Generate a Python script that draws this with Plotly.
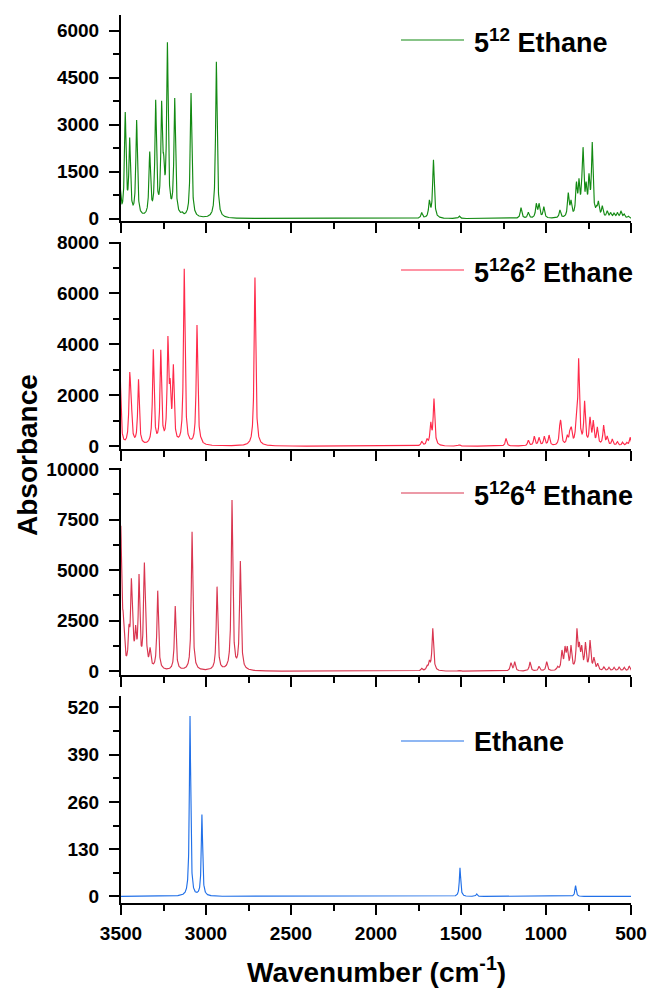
import numpy as np
import plotly.graph_objects as go

# ---------------- data (peak positions in cm-1 and observed peak heights) ----------------
p1_pos = [3506, 3475, 3449, 3408, 3331, 3296, 3261, 3249, 3227, 3184, 3150, 3140, 3088, 2939,
          1731, 1686, 1662, 1510, 1147, 1104, 1057, 1041, 1013, 918, 869, 853, 821, 806, 790,
          782, 764, 747, 728, 703, 692, 669, 640, 620, 600, 580, 559, 540, 515]
p1_hgt = [1100, 3400, 2590, 3146, 2142, 3795, 3763, 2068, 5627, 3849, 200, 220, 4009, 5010,
          192, 598, 1877, 86, 352, 205, 492, 492, 384, 278, 831, 600, 1183, 1291, 1260,
          2282, 1183, 1450, 2442, 420, 566, 415, 250, 200, 180, 200, 250, 150, 80]

p2_pos = [3505, 3449, 3441, 3397, 3310, 3266, 3224, 3211, 3192, 3128, 3075, 3053, 3030, 2712,
          1731, 1700, 1678, 1659, 1510, 1235, 1104, 1069, 1041, 1010, 982, 918, 912, 875, 859,
          851, 822, 808, 773, 741, 722, 698, 661, 640, 610, 580, 550, 525, 505]
p2_hgt = [2800, 2885, 2309, 2630, 3810, 3790, 4329, 2663, 3213, 6965, 260, 4761, 350, 6623,
          200, 300, 957, 1876, 60, 302, 236, 393, 350, 393, 440, 957, 957, 450, 695,
          760, 1220, 3450, 1783, 1154, 1023, 760, 826, 400, 280, 180, 160, 150, 350]

p3_pos = [3501, 3488, 3482, 3453, 3439, 3431, 3414, 3394, 3363, 3355, 3329, 3284, 3181, 3082,
          3040, 2935, 2847, 2798, 1731, 1700, 1686, 1666, 1510, 1206, 1184, 1094, 1041, 996,
          932, 906, 888, 875, 853, 818, 804, 790, 768, 741, 718, 696, 660, 630, 600, 570, 540, 510]
p3_hgt = [7200, 3000, 1960, 2326, 4600, 2787, 2292, 4816, 5376, 3232, 1188, 3990, 3232, 6910,
          150, 4188, 8480, 5460, 150, 300, 560, 2128, 60, 427, 475, 460, 250, 475,
          250, 1054, 1252, 1250, 1300, 2128, 1450, 1300, 1450, 1550, 700, 400, 220, 200, 200, 220, 200, 250]

p4_pos = [3094, 3024, 1506, 1408, 826]
p4_hgt = [496, 225, 79, 7, 30]

names = ["5<sup>12</sup> Ethane", "5<sup>12</sup>6<sup>2</sup> Ethane",
         "5<sup>12</sup>6<sup>4</sup> Ethane", "Ethane"]
hwhm = [5.5, 5.5, 5.5, 4.5]          # Lorentzian half widths (cm-1)
colors = ["#138a13", "#ff2a4a", "#d93650", "#2170e8"]
y_ranges = [[-75, 6500], [-110, 8020], [-185, 10060], [-18, 551]]
y_dticks = [1500, 2000, 2500, 130]
x_ticks = [3500, 3000, 2500, 2000, 1500, 1000, 500]

peaks = [(p1_pos, p1_hgt), (p2_pos, p2_hgt), (p3_pos, p3_hgt), (p4_pos, p4_hgt)]
wn = np.arange(3520.0, 479.5, -0.5)


def spectrum(pos, hgt, g):
    pos = np.asarray(pos, float)
    hgt = np.asarray(hgt, float)
    A = g ** 2 / ((pos[:, None] - pos[None, :]) ** 2 + g ** 2)
    amp = hgt.copy()
    for _ in range(400):  # match the observed maxima
        amp = np.clip(amp + 0.5 * (hgt - A @ amp), 0, None)
    L = g ** 2 / ((wn[:, None] - pos[None, :]) ** 2 + g ** 2)
    return L @ amp


# ---------------- layout geometry ----------------
W, H = 652, 992
ml, mr, mt, mb = 121, 21, 15, 89
pw, ph = W - ml - mr, H - mt - mb
panels_px = [(15, 221), (242, 449), (468, 675), (696, 903)]


def py2paper(py):
    return (H - mb - py) / ph


def px2paper(px):
    return (px - ml) / pw


fig = go.Figure()
font_tick = dict(family="Liberation Sans, Arial", size=19, color="black", weight="bold")

for i, ((pos, hgt), g) in enumerate(zip(peaks, hwhm)):
    k = "" if i == 0 else str(i + 1)
    y = spectrum(pos, hgt, g)
    fig.add_trace(go.Scatter(x=wn, y=y, mode="lines", line=dict(color=colors[i], width=1.15),
                             xaxis="x" + k, yaxis="y" + k, showlegend=False,
                             name=names[i].replace("<sup>", "").replace("</sup>", "")))
    top, bot = panels_px[i]
    fig.layout["xaxis" + k] = dict(
        domain=[0, 1], anchor="y" + k, range=[3500, 500], tickvals=x_ticks,
        showticklabels=(i == 3), ticks="outside", ticklen=10, tickwidth=2, tickcolor="black",
        minor=dict(dtick=250, ticks="outside", ticklen=6, tickwidth=2, tickcolor="black", tick0=500),
        showline=True, linecolor="black", linewidth=2, showgrid=False, zeroline=False,
        tickfont=font_tick, ticklabelstandoff=2, automargin=False,
    )
    fig.layout["yaxis" + k] = dict(
        domain=[py2paper(bot), py2paper(top)], anchor="x" + k, range=y_ranges[i],
        tick0=0, dtick=y_dticks[i], tickformat="d", ticks="outside", ticklen=10, tickwidth=2,
        tickcolor="black",
        minor=dict(dtick=y_dticks[i] / 2, ticks="outside", ticklen=6, tickwidth=2, tickcolor="black"),
        showline=True, linecolor="black", linewidth=2, showgrid=False, zeroline=False,
        tickfont=font_tick, ticklabelstandoff=6, automargin=False,
    )

# legend-like labels (line sample + text) for each panel
leg_y = [40, 270, 493, 741]
for i, ly in enumerate(leg_y):
    fig.add_shape(type="line", xref="paper", yref="paper",
                  x0=px2paper(401), x1=px2paper(464), y0=py2paper(ly), y1=py2paper(ly),
                  line=dict(color=colors[i], width=1.2))
    fig.add_annotation(xref="paper", yref="paper", x=px2paper(472), y=py2paper(ly + 1),
                       xanchor="left", yanchor="middle", showarrow=False,
                       text=names[i],
                       font=dict(family="Liberation Sans, Arial", size=27, color="black", weight="bold"))

fig.add_annotation(xref="paper", yref="paper", x=px2paper(27), y=py2paper(455), textangle=-90,
                   xanchor="center", yanchor="middle", showarrow=False, text="Absorbance",
                   font=dict(family="Liberation Sans, Arial", size=28, color="black", weight="bold"))
fig.add_annotation(xref="paper", yref="paper", x=px2paper(376), y=py2paper(970),
                   xanchor="center", yanchor="middle", showarrow=False,
                   text="Wavenumber (cm<sup>-1</sup>)",
                   font=dict(family="Liberation Sans, Arial", size=28, color="black", weight="bold"))

fig.update_layout(width=W, height=H, margin=dict(l=ml, r=mr, t=mt, b=mb, autoexpand=False),
                  paper_bgcolor="white", plot_bgcolor="white", showlegend=False)

fig.write_html("out.html")
